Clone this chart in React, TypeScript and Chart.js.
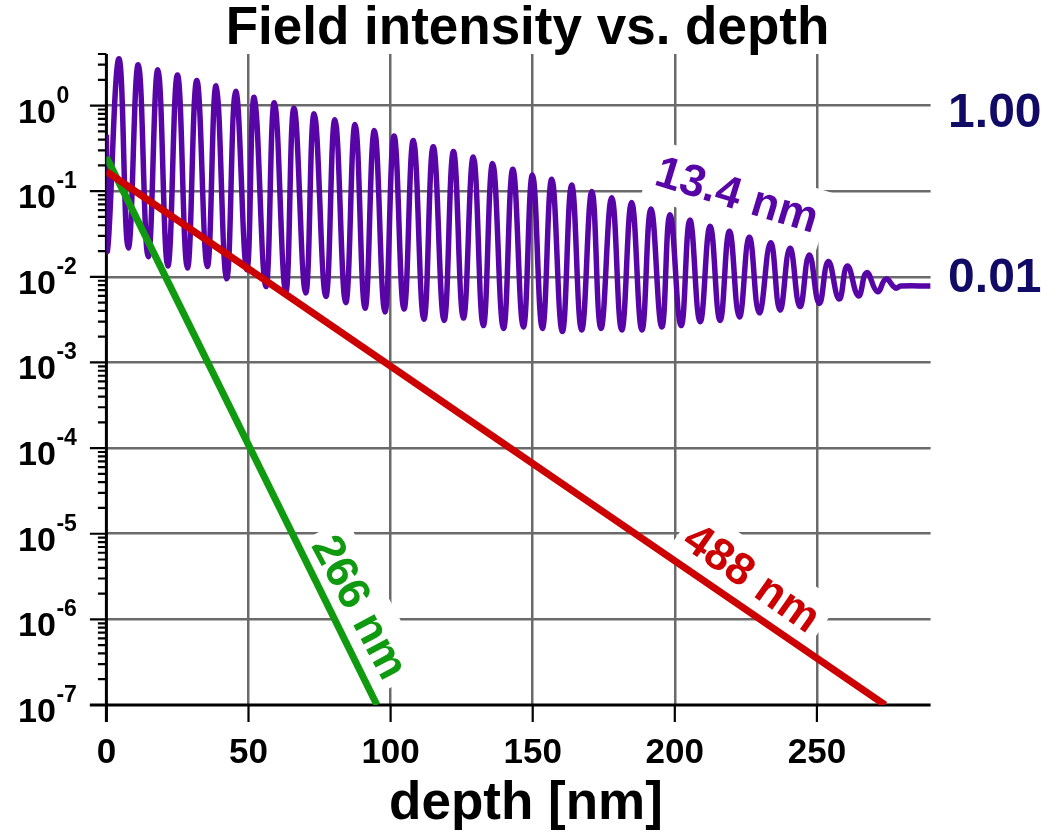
import React, { useEffect, useRef } from 'react';
import { Chart, registerables } from 'chart.js';

Chart.register(...registerables);

// ---------- text ----------
const chartTitle = 'Field intensity vs. depth';
const xAxisTitle = 'depth [nm]';

// ---------- axes ----------
const xMin = 0;
const xMax = 290;
const yMin = 1e-7;
const yMax = 4;
const xTickValues = [0, 50, 100, 150, 200, 250];
const xTickLabels = ['0', '50', '100', '150', '200', '250'];
const yMajorExponents = [-7, -6, -5, -4, -3, -2, -1, 0];
const yTickBase = '10';
const yMinorMultipliers = [2, 3, 4, 5, 6, 7, 8, 9];

// ---------- 13.4 nm standing wave (peaks / troughs) ----------
const purpleStartDepth = 0;
const purpleStartValue = 0.455;
const purpleTroughDepth = [0.4, 7.7, 14.7, 21.6, 28.5, 35.5, 42.3, 49.4, 56.1, 63.1, 70.1, 77.2, 84.2, 91.0, 98.0, 104.7, 111.7, 118.8, 125.6, 132.6, 139.7, 146.7, 153.4, 160.4, 167.2, 174.0, 181.3, 188.4, 195.4, 202.2, 208.9, 215.9, 222.7, 229.7, 237.0, 244.0, 250.8, 257.8, 264.6, 271.3];
const purpleTroughValue = [0.0206, 0.0218, 0.0172, 0.0134, 0.0127, 0.0132, 0.0095, 0.0121, 0.0077, 0.0067, 0.0065, 0.0059, 0.0050, 0.0043, 0.0039, 0.0042, 0.0032, 0.0031, 0.0033, 0.0027, 0.0025, 0.0026, 0.0025, 0.0023, 0.0024, 0.0025, 0.0024, 0.0024, 0.0026, 0.0027, 0.0030, 0.0031, 0.0034, 0.0038, 0.0041, 0.0045, 0.0049, 0.0055, 0.0060, 0.0067];
const purplePeakDepth = [4.4, 11.2, 18.1, 25.0, 31.8, 38.6, 45.5, 52.0, 59.1, 66.0, 73.1, 80.4, 87.5, 94.3, 101.2, 108.0, 115.0, 122.1, 129.1, 135.9, 143.0, 149.9, 156.7, 163.7, 170.8, 177.8, 184.8, 191.6, 198.3, 205.3, 212.4, 219.2, 226.2, 233.7, 240.5, 247.3, 254.0, 260.7, 267.5, 274.3];
const purplePeakValue = [3.51, 2.99, 2.61, 2.28, 1.96, 1.70, 1.46, 1.25, 1.08, 0.93, 0.80, 0.68, 0.60, 0.51, 0.44, 0.39, 0.33, 0.29, 0.25, 0.21, 0.18, 0.155, 0.138, 0.118, 0.099, 0.084, 0.074, 0.062, 0.053, 0.046, 0.039, 0.034, 0.029, 0.025, 0.0216, 0.018, 0.0151, 0.0134, 0.0112, 0.0094];
const purpleTailDepth = [277.6, 279.5, 290];
const purpleTailValue = [0.0074, 0.0078, 0.0078];

// ---------- 266 nm and 488 nm exponential decays ----------
const greenDepth = [0, 95.2];
const greenValue = [0.25, 1e-7];
const redDepth = [0, 274];
const redValue = [0.17, 1e-7];

// ---------- annotations ----------
const curveLabelText = ['13.4 nm', '266 nm', '488 nm'];
const curveLabelDepth = [221.9, 89.2, 227.2];
const curveLabelValue = [0.0905, 1.39e-6, 3.04e-6];
const rightLabelText = ['1.00', '0.01'];
const rightLabelValue = [0.8, 0.0095];

// ---------- styles ----------
const FONT = "'Liberation Sans', Arial, Helvetica, sans-serif";
const PURPLE = '#5805a8';
const GREEN = '#0f9a0f';
const RED = '#cc0000';
const NAVY = '#110b66';
const GRID = '#6a6a6a';
const curveLabelStyle = [
  { color: PURPLE, angle: 17, size: 45 },
  { color: GREEN, angle: 62, size: 45 },
  { color: RED, angle: 35, size: 45 },
];

function buildPurple() {
  const pts: { x: number; y: number }[] = [{ x: purpleStartDepth, y: purpleStartValue }];
  for (let i = 0; i < purplePeakDepth.length; i++) {
    pts.push({ x: purpleTroughDepth[i], y: purpleTroughValue[i] });
    pts.push({ x: purplePeakDepth[i], y: purplePeakValue[i] });
  }
  for (let i = 0; i < purpleTailDepth.length; i++) {
    pts.push({ x: purpleTailDepth[i], y: purpleTailValue[i] });
  }
  return pts;
}

function buildYTicks() {
  const ticks: { value: number; major: boolean }[] = [];
  for (const e of yMajorExponents) {
    const base = Math.pow(10, e);
    if (base >= yMin && base <= yMax) ticks.push({ value: base, major: true });
    for (const m of yMinorMultipliers) {
      const v = m * base;
      if (v <= yMax * 1.0000001 && v >= yMin) ticks.push({ value: v, major: false });
    }
  }
  return ticks;
}

const decorPlugin = {
  id: 'decor',
  beforeDatasetsDraw(chart: any) {
    const { ctx, chartArea: a, scales } = chart;
    const x = scales.x;
    const y = scales.y;
    ctx.save();

    // curve labels with white boxes (hide the grid behind them)
    curveLabelText.forEach((t, i) => {
      const st = curveLabelStyle[i];
      const px = x.getPixelForValue(curveLabelDepth[i]);
      const py = y.getPixelForValue(curveLabelValue[i]);
      ctx.save();
      ctx.translate(px, py);
      ctx.rotate((st.angle * Math.PI) / 180);
      ctx.font = `bold ${st.size}px ${FONT}`;
      const w = ctx.measureText(t).width;
      ctx.fillStyle = '#ffffff';
      ctx.fillRect(-w / 2 - 8, -st.size * 0.66, w + 16, st.size * 1.32);
      ctx.fillStyle = st.color;
      ctx.textAlign = 'center';
      ctx.textBaseline = 'middle';
      ctx.fillText(t, 0, 2);
      ctx.restore();
    });

    // axis lines
    ctx.strokeStyle = '#000';
    ctx.lineCap = 'butt';
    ctx.lineWidth = 3;
    ctx.beginPath();
    ctx.moveTo(a.left, a.top);
    ctx.lineTo(a.left, a.bottom + 17);
    ctx.moveTo(a.left - 16.5, a.bottom);
    ctx.lineTo(a.right, a.bottom);
    ctx.stroke();

    // tick marks
    ctx.lineWidth = 2.2;
    ctx.beginPath();
    y.ticks.forEach((t: any) => {
      const py = y.getPixelForValue(t.value);
      const len = t.major ? 16.5 : 8.5;
      ctx.moveTo(a.left - len, py);
      ctx.lineTo(a.left, py);
    });
    x.ticks.forEach((t: any) => {
      const px = x.getPixelForValue(t.value);
      ctx.moveTo(px, a.bottom);
      ctx.lineTo(px, a.bottom + 17);
    });
    ctx.stroke();

    // x tick labels
    ctx.fillStyle = '#000';
    ctx.font = `bold 35px ${FONT}`;
    ctx.textAlign = 'center';
    ctx.textBaseline = 'alphabetic';
    xTickValues.forEach((v, i) => {
      ctx.fillText(xTickLabels[i], x.getPixelForValue(v), a.bottom + 58);
    });

    // x axis title
    ctx.font = `bold 53px ${FONT}`;
    ctx.textBaseline = 'middle';
    ctx.fillText(xAxisTitle, (a.left + a.right) / 2 + 7.5, a.bottom + 99);

    // y tick labels: 10 with superscript exponent
    ctx.textBaseline = 'alphabetic';
    yMajorExponents.forEach((e) => {
      const py = y.getPixelForValue(Math.pow(10, e));
      ctx.font = `bold 34px ${FONT}`;
      ctx.textAlign = 'right';
      ctx.fillText(yTickBase, a.left - 50.5, py + 17);
      ctx.font = `bold 23px ${FONT}`;
      ctx.textAlign = 'left';
      ctx.fillText(String(e), a.left - 50, py - 3);
    });

    // right-hand labels
    ctx.fillStyle = NAVY;
    ctx.font = `bold 48px ${FONT}`;
    ctx.textAlign = 'left';
    ctx.textBaseline = 'middle';
    rightLabelText.forEach((t, i) => {
      ctx.fillText(t, a.right + 17.5, y.getPixelForValue(rightLabelValue[i]));
    });

    ctx.restore();
  },
};

export default function App() {
  const canvasRef = useRef<HTMLCanvasElement | null>(null);

  useEffect(() => {
    document.body.style.margin = '0';
    const canvas = canvasRef.current;
    if (!canvas) return;
    const yTicks = buildYTicks();
    const chart = new Chart(canvas, {
      type: 'line',
      data: {
        datasets: [
          {
            label: '488 nm',
            data: redDepth.map((d, i) => ({ x: d, y: redValue[i] })),
            borderColor: RED,
            borderWidth: 7,
            pointRadius: 0,
            fill: false,
            tension: 0,
          },
          {
            label: '266 nm',
            data: greenDepth.map((d, i) => ({ x: d, y: greenValue[i] })),
            borderColor: GREEN,
            borderWidth: 7,
            pointRadius: 0,
            fill: false,
            tension: 0,
          },
          {
            label: '13.4 nm',
            data: buildPurple(),
            borderColor: PURPLE,
            borderWidth: 5.5,
            pointRadius: 0,
            fill: false,
            tension: 0.45,
            borderJoinStyle: 'round',
          },
        ],
      },
      options: {
        animation: false,
        responsive: false,
        devicePixelRatio: 1,
        layout: { padding: { left: 7, right: 0, top: 0, bottom: 128 } },
        plugins: {
          legend: { display: false },
          tooltip: { enabled: false },
          title: {
            display: true,
            text: chartTitle,
            color: '#000',
            font: { family: FONT, size: 53, weight: 'bold', lineHeight: '50px' },
            padding: { top: 4, bottom: 0 },
          },
        },
        scales: {
          x: {
            type: 'linear',
            min: xMin,
            max: xMax,
            afterBuildTicks: (s: any) => {
              s.ticks = xTickValues.map((v) => ({ value: v }));
            },
            ticks: { display: false },
            grid: {
              color: (c: any) => (c.tick && c.tick.value === 0 ? 'rgba(0,0,0,0)' : GRID),
              lineWidth: 2.5,
              drawTicks: false,
            },
            border: { display: false },
          },
          y: {
            type: 'logarithmic',
            position: 'left',
            min: yMin,
            max: yMax,
            afterBuildTicks: (s: any) => {
              s.ticks = yTicks.map((t) => ({ value: t.value, major: t.major }));
            },
            afterFit: (s: any) => {
              s.width = 99.4;
            },
            ticks: { display: false },
            grid: {
              color: (c: any) =>
                c.tick && c.tick.major && c.tick.value > yMin * 1.5 ? GRID : 'rgba(0,0,0,0)',
              lineWidth: 2.5,
              drawTicks: false,
            },
            border: { display: false },
          },
          yRight: {
            type: 'linear',
            position: 'right',
            min: 0,
            max: 1,
            afterFit: (s: any) => {
              s.width = 117.4;
            },
            ticks: { display: false },
            grid: { display: false, drawTicks: false },
            border: { display: false },
          },
        },
      },
      plugins: [decorPlugin],
    } as any);
    return () => chart.destroy();
  }, []);

  return (
    <div style={{ width: 1048, height: 833, background: '#fff' }}>
      <canvas ref={canvasRef} width={1048} height={833} style={{ display: 'block' }} />
    </div>
  );
}
